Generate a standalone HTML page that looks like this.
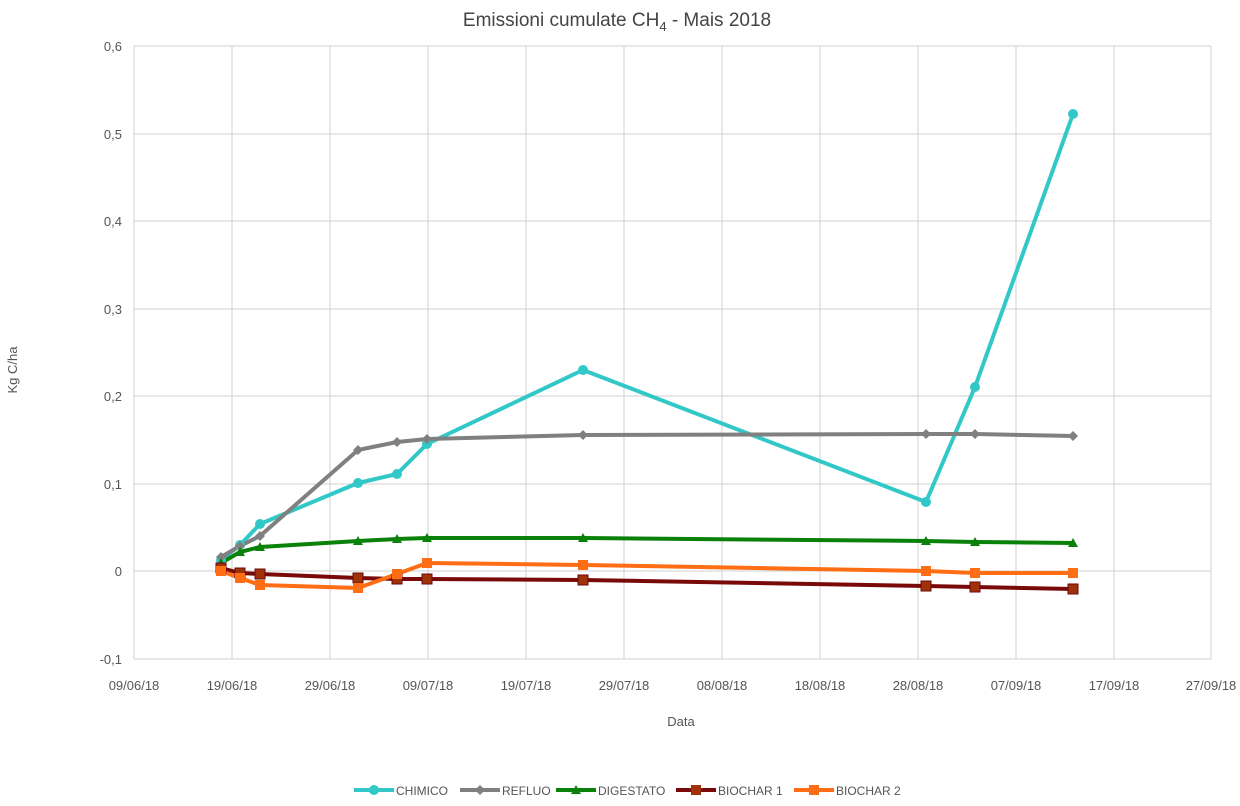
<!DOCTYPE html>
<html><head><style>body{margin:0;background:#fff}svg{display:block}text{font-family:"Liberation Sans",sans-serif}</style></head><body>
<svg width="1240" height="806" xmlns="http://www.w3.org/2000/svg">
<text x="617" y="26" text-anchor="middle" font-size="19" fill="#444">Emissioni cumulate CH<tspan font-size="13" dy="5">4</tspan><tspan dy="-5"> - Mais 2018</tspan></text>
<g stroke="#d0d0d0" stroke-width="1">
<line x1="134" y1="46" x2="1211" y2="46"/><line x1="134" y1="134" x2="1211" y2="134"/><line x1="134" y1="221" x2="1211" y2="221"/><line x1="134" y1="309" x2="1211" y2="309"/><line x1="134" y1="396" x2="1211" y2="396"/><line x1="134" y1="484" x2="1211" y2="484"/><line x1="134" y1="571" x2="1211" y2="571"/><line x1="134" y1="659" x2="1211" y2="659"/>
<line x1="134" y1="46" x2="134" y2="659"/><line x1="232" y1="46" x2="232" y2="659"/><line x1="330" y1="46" x2="330" y2="659"/><line x1="428" y1="46" x2="428" y2="659"/><line x1="526" y1="46" x2="526" y2="659"/><line x1="624" y1="46" x2="624" y2="659"/><line x1="722" y1="46" x2="722" y2="659"/><line x1="820" y1="46" x2="820" y2="659"/><line x1="918" y1="46" x2="918" y2="659"/><line x1="1016" y1="46" x2="1016" y2="659"/><line x1="1114" y1="46" x2="1114" y2="659"/><line x1="1211" y1="46" x2="1211" y2="659"/>
</g>
<g font-size="13" fill="#555" text-anchor="end">
<text x="122" y="51">0,6</text><text x="122" y="139">0,5</text><text x="122" y="226">0,4</text><text x="122" y="314">0,3</text><text x="122" y="401">0,2</text><text x="122" y="489">0,1</text><text x="122" y="576">0</text><text x="122" y="664">-0,1</text>
</g>
<g font-size="13" fill="#555" text-anchor="middle">
<text x="134" y="690">09/06/18</text><text x="232" y="690">19/06/18</text><text x="330" y="690">29/06/18</text><text x="428" y="690">09/07/18</text><text x="526" y="690">19/07/18</text><text x="624" y="690">29/07/18</text><text x="722" y="690">08/08/18</text><text x="820" y="690">18/08/18</text><text x="918" y="690">28/08/18</text><text x="1016" y="690">07/09/18</text><text x="1114" y="690">17/09/18</text><text x="1211" y="690">27/09/18</text>
<text x="681" y="726">Data</text>
</g>
<text transform="translate(17,370) rotate(-90)" font-size="13" fill="#555" text-anchor="middle">Kg C/ha</text>
<g fill="none" stroke-width="4" stroke-linejoin="round">
<polyline stroke="#32c8c8" points="221,560 240,545 260,524 358,483 397,474 427,444 583,370 926,502 975,387 1073,114"/>
<polyline stroke="#808080" points="221,557 240,546 260,536 358,450 397,442 427,439 583,435 926,434 975,434 1073,436"/>
<polyline stroke="#0a820a" points="221,563 240,552 260,547 358,541 397,539 427,538 583,538 926,541 975,542 1073,543"/>
<polyline stroke="#7a0a0a" points="221,568 240,573 260,574 358,578 397,579 427,579 583,580 926,586 975,587 1073,589"/>
<polyline stroke="#ff6e14" points="221,571 240,578 260,585 358,588 397,574 427,563 583,565 926,571 975,573 1073,573"/>
</g>
<g fill="#32c8c8"><circle cx="221" cy="560" r="5"/><circle cx="240" cy="545" r="5"/><circle cx="260" cy="524" r="5"/><circle cx="358" cy="483" r="5"/><circle cx="397" cy="474" r="5"/><circle cx="427" cy="444" r="5"/><circle cx="583" cy="370" r="5"/><circle cx="926" cy="502" r="5"/><circle cx="975" cy="387" r="5"/><circle cx="1073" cy="114" r="5"/></g>
<g fill="#808080"><path d="M221 552l5 5-5 5-5-5z M240 541l5 5-5 5-5-5z M260 531l5 5-5 5-5-5z M358 445l5 5-5 5-5-5z M397 437l5 5-5 5-5-5z M427 434l5 5-5 5-5-5z M583 430l5 5-5 5-5-5z M926 429l5 5-5 5-5-5z M975 429l5 5-5 5-5-5z M1073 431l5 5-5 5-5-5z"/></g>
<g fill="#0a820a"><path d="M221 558l5 9h-10z M240 547l5 9h-10z M260 542l5 9h-10z M358 536l5 9h-10z M397 534l5 9h-10z M427 533l5 9h-10z M583 533l5 9h-10z M926 536l5 9h-10z M975 537l5 9h-10z M1073 538l5 9h-10z"/></g>
<g fill="#a0320a" stroke="#6a0a0a" stroke-width="1"><rect x="216" y="563" width="10" height="10"/><rect x="235" y="568" width="10" height="10"/><rect x="255" y="569" width="10" height="10"/><rect x="353" y="573" width="10" height="10"/><rect x="392" y="574" width="10" height="10"/><rect x="422" y="574" width="10" height="10"/><rect x="578" y="575" width="10" height="10"/><rect x="921" y="581" width="10" height="10"/><rect x="970" y="582" width="10" height="10"/><rect x="1068" y="584" width="10" height="10"/></g>
<g fill="#ff6e14"><rect x="216" y="566" width="10" height="10"/><rect x="235" y="573" width="10" height="10"/><rect x="255" y="580" width="10" height="10"/><rect x="353" y="583" width="10" height="10"/><rect x="392" y="569" width="10" height="10"/><rect x="422" y="558" width="10" height="10"/><rect x="578" y="560" width="10" height="10"/><rect x="921" y="566" width="10" height="10"/><rect x="970" y="568" width="10" height="10"/><rect x="1068" y="568" width="10" height="10"/></g>
<g stroke-width="4">
<line x1="354" y1="790" x2="394" y2="790" stroke="#32c8c8"/><circle cx="374" cy="790" r="5" fill="#32c8c8"/>
<line x1="460" y1="790" x2="500" y2="790" stroke="#808080"/><path d="M480 785l5 5-5 5-5-5z" fill="#808080"/>
<line x1="556" y1="790" x2="596" y2="790" stroke="#0a820a"/><path d="M576 785l5 9h-10z" fill="#0a820a"/>
<line x1="676" y1="790" x2="716" y2="790" stroke="#7a0a0a"/><rect x="691" y="785" width="10" height="10" fill="#a0320a"/>
<line x1="794" y1="790" x2="834" y2="790" stroke="#ff6e14"/><rect x="809" y="785" width="10" height="10" fill="#ff6e14"/>
</g>
<g font-size="12" fill="#555"><text x="396" y="795">CHIMICO</text><text x="502" y="795">REFLUO</text><text x="598" y="795">DIGESTATO</text><text x="718" y="795">BIOCHAR 1</text><text x="836" y="795">BIOCHAR 2</text></g>
</svg></body></html>
